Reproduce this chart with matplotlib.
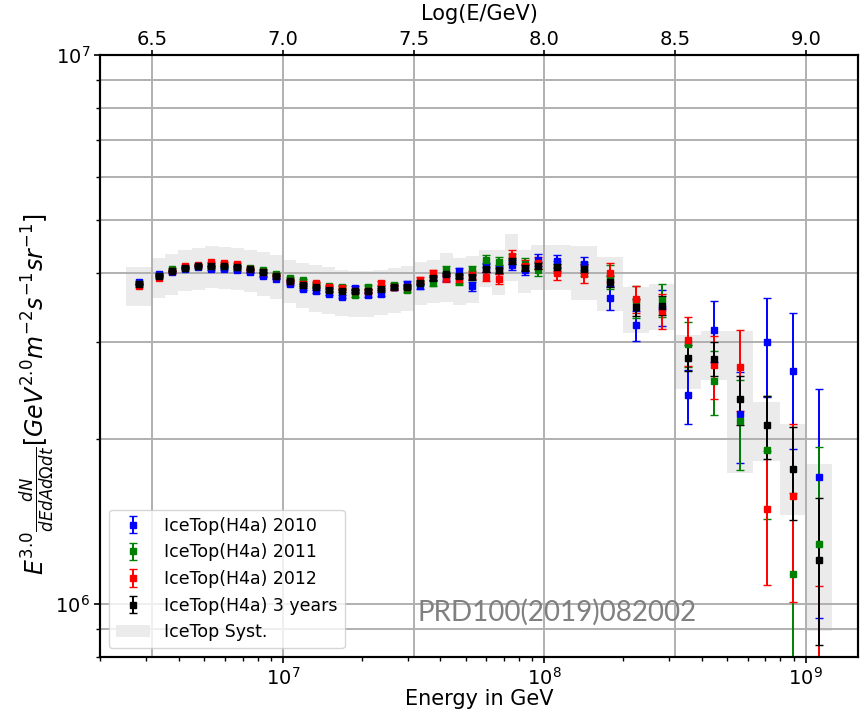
import numpy as np
import matplotlib
matplotlib.use("Agg")
import matplotlib.pyplot as plt
from matplotlib.patches import Patch

plt.rcParams['font.family'] = ['DejaVu Sans']
plt.rcParams['mathtext.fontset'] = 'dejavusans'

# log10(E/GeV) bin centres and bin edges
log_e = [6.45, 6.525, 6.575, 6.625, 6.675, 6.725, 6.775, 6.825, 6.875, 6.925, 6.975,
         7.025, 7.075, 7.125, 7.175, 7.225, 7.275, 7.325, 7.375, 7.425, 7.475,
         7.525, 7.575, 7.625, 7.675, 7.725, 7.775, 7.825, 7.875, 7.925, 7.975,
         8.05, 8.15, 8.25, 8.35, 8.45, 8.55, 8.65, 8.75, 8.85, 8.95, 9.05]
log_edges = [6.4, 6.5, 6.55, 6.6, 6.65, 6.7, 6.75, 6.8, 6.85, 6.9, 6.95, 7.0,
             7.05, 7.1, 7.15, 7.2, 7.25, 7.3, 7.35, 7.4, 7.45, 7.5,
             7.55, 7.6, 7.65, 7.7, 7.75, 7.8, 7.85, 7.9, 7.95, 8.0,
             8.1, 8.2, 8.3, 8.4, 8.5, 8.6, 8.7, 8.8, 8.9, 9.0, 9.1]

# E^3 dN/dE ... in units of 1e6 GeV^2 m^-2 s^-1 sr^-1
flux_2010 = [3.858, 3.994, 4.023, 4.083, 4.113, 4.073, 4.073, 4.061, 4.019, 3.949, 3.915,
             3.831, 3.746, 3.710, 3.670, 3.627, 3.763, 3.655, 3.672, 3.773, 3.831,
             3.799, 3.917, 3.932, 4.035, 3.788, 4.101, 4.070, 4.146, 4.061, 4.233,
             4.210, 4.168, 3.614, 3.216, 3.466, 2.399, 3.158, 2.222, 2.995, 2.654, 1.701]
err_2010 = [0.010, 0.010, 0.010, 0.010, 0.011, 0.011, 0.012, 0.012, 0.013, 0.014, 0.015,
            0.017, 0.019, 0.021, 0.023, 0.025, 0.028, 0.031, 0.034, 0.037, 0.041,
            0.045, 0.050, 0.055, 0.060, 0.066, 0.072, 0.079, 0.086, 0.094, 0.100,
            0.110, 0.117, 0.180, 0.200, 0.260, 0.270, 0.400, 0.420, 0.610, 0.740, 0.760]

flux_2011 = [3.826, 3.961, 4.074, 4.100, 4.130, 4.125, 4.125, 4.112, 4.087, 4.066, 3.998,
             3.929, 3.889, 3.820, 3.794, 3.782, 3.655, 3.779, 3.766, 3.804, 3.737,
             3.847, 3.844, 4.065, 3.871, 4.051, 4.237, 4.205, 4.251, 4.163, 4.061,
             4.107, 4.083, 3.945, 3.560, 3.580, 2.979, 2.546, 2.154, 1.909, 1.133, 1.288]
err_2011 = [0.010, 0.010, 0.010, 0.010, 0.011, 0.011, 0.012, 0.012, 0.013, 0.014, 0.015,
            0.017, 0.018, 0.020, 0.022, 0.024, 0.027, 0.030, 0.033, 0.036, 0.040,
            0.044, 0.049, 0.054, 0.060, 0.068, 0.080, 0.084, 0.090, 0.100, 0.110,
            0.100, 0.120, 0.200, 0.240, 0.250, 0.280, 0.340, 0.400, 0.480, 0.460, 0.640]

flux_2012 = [3.794, 3.928, 4.040, 4.134, 4.147, 4.194, 4.177, 4.163, 4.070, 4.016, 3.965,
             3.880, 3.826, 3.836, 3.779, 3.767, 3.717, 3.717, 3.844, 3.773, 3.784,
             3.895, 4.000, 3.916, 3.904, 3.969, 3.948, 3.901, 4.304, 4.129, 4.182,
             4.004, 3.998, 4.011, 3.589, 3.422, 3.020, 2.721, 2.699, 1.491, 1.569, 0.620]
err_2012 = [0.010, 0.010, 0.010, 0.010, 0.011, 0.011, 0.012, 0.012, 0.013, 0.014, 0.015,
            0.017, 0.019, 0.021, 0.023, 0.025, 0.028, 0.031, 0.034, 0.037, 0.041,
            0.045, 0.050, 0.055, 0.061, 0.067, 0.074, 0.081, 0.110, 0.096, 0.104,
            0.110, 0.150, 0.160, 0.200, 0.250, 0.310, 0.360, 0.450, 0.410, 0.560, 0.460]

flux_3yr = [3.826, 3.961, 4.040, 4.100, 4.130, 4.125, 4.125, 4.112, 4.070, 4.016, 3.965,
            3.880, 3.810, 3.773, 3.732, 3.720, 3.717, 3.717, 3.750, 3.773, 3.784,
            3.847, 3.917, 3.982, 3.953, 3.936, 4.067, 4.053, 4.216, 4.095, 4.130,
            4.107, 4.083, 3.864, 3.470, 3.495, 2.810, 2.797, 2.359, 2.116, 1.762, 1.201]
err_3yr = [0.006, 0.006, 0.006, 0.006, 0.006, 0.007, 0.007, 0.007, 0.008, 0.008, 0.009,
           0.010, 0.011, 0.012, 0.013, 0.014, 0.016, 0.018, 0.020, 0.021, 0.023,
           0.026, 0.029, 0.032, 0.035, 0.038, 0.042, 0.046, 0.050, 0.054, 0.058,
           0.060, 0.070, 0.090, 0.120, 0.140, 0.150, 0.200, 0.240, 0.280, 0.340, 0.360]

# systematic uncertainty band (same units)
syst_hi = [4.112, 4.276, 4.347, 4.421, 4.458, 4.484, 4.471, 4.458, 4.421, 4.378, 4.318,
           4.240, 4.182, 4.142, 4.101, 4.057, 4.040, 4.040, 4.057, 4.084, 4.125,
           4.200, 4.229, 4.360, 4.270, 4.306, 4.421, 4.421, 4.726, 4.410, 4.502,
           4.502, 4.489, 4.279, 3.784, 3.821, 3.084, 3.136, 3.136, 2.332, 2.125, 1.799]
syst_lo = [3.495, 3.603, 3.655, 3.716, 3.731, 3.756, 3.741, 3.731, 3.706, 3.640, 3.594,
           3.528, 3.467, 3.409, 3.376, 3.346, 3.331, 3.331, 3.353, 3.381, 3.423,
           3.505, 3.528, 3.553, 3.505, 3.528, 3.784, 3.655, 3.875, 3.680, 3.731,
           3.731, 3.580, 3.416, 3.114, 3.158, 2.462, 2.554, 1.735, 1.823, 1.454, 0.891]

top_ticks = [6.5, 7.0, 7.5, 8.0, 8.5, 9.0]

series = [
    ("IceTop(H4a) 2010", flux_2010, err_2010, "#0000ff"),
    ("IceTop(H4a) 2011", flux_2011, err_2011, "#008000"),
    ("IceTop(H4a) 2012", flux_2012, err_2012, "#ff0000"),
    ("IceTop(H4a) 3 years", flux_3yr, err_3yr, "#000000"),
]

unit = 1e6
energy = 10 ** np.array(log_e)
edges = 10 ** np.array(log_edges)

fig = plt.figure(figsize=(8.66, 7.10), dpi=100)
ax = fig.add_axes([0.1155, 0.0746, 0.8753, 0.8479])
ax.set_xscale('log')
ax.set_yscale('log')
ax.set_xlim(10 ** 6.3, 10 ** 9.2)
ax.set_ylim(8e5, 1e7)

grid_color = '#b0b0b0'
ax.grid(True, which='both', axis='y', color=grid_color, lw=1.4)
for t in top_ticks:
    ax.axvline(10 ** t, color=grid_color, lw=1.4, zorder=1.5)

band_color = '#ebebeb'
ax.stairs(np.array(syst_hi) * unit, edges, baseline=np.array(syst_lo) * unit,
          fill=True, color=band_color, lw=0, zorder=1)

handles = []
for label, flux, err, color in series:
    h = ax.errorbar(energy, np.array(flux) * unit, yerr=np.array(err) * unit,
                    fmt='s', ms=5, color=color, ecolor=color, elinewidth=1.4,
                    capsize=3, capthick=1.0, label=label, zorder=3)
    handles.append(h)
handles.append(Patch(facecolor=band_color, edgecolor='none', label='IceTop Syst.'))

for s in ax.spines.values():
    s.set_linewidth(1.5)
ax.tick_params(axis='both', which='major', labelsize=14, length=4.5, width=1.2, pad=2.5)
ax.tick_params(axis='both', which='minor', length=3, width=1.0)
ax.set_xlabel('Energy in GeV', fontsize=15, labelpad=0)
ax.set_ylabel(r'$E^{3.0}\frac{dN}{dEdAd\Omega dt}[GeV^{2.0}m^{-2}s^{-1}sr^{-1}]$',
              fontsize=17)
ax.yaxis.set_label_coords(-0.057, 0.437)

ax2 = ax.twiny()
ax2.set_xlim(6.3, 9.2)
ax2.set_xticks(top_ticks)
ax2.set_xticklabels([f'{t:.1f}' for t in top_ticks])
ax2.tick_params(axis='x', labelsize=14, length=3.5, width=1.2, pad=1.0)
ax2.set_xlabel('Log(E/GeV)', fontsize=15, labelpad=7)
for s in ax2.spines.values():
    s.set_linewidth(1.5)

ax.legend(handles=handles, loc='lower left', fontsize=12.5, framealpha=0.8)

fig.text(0.643, 0.138, 'PRD100(2019)082002', color='#808080', fontsize=20,
         family=['Lato', 'DejaVu Sans'], ha='center', va='center')

fig.savefig('out.png', dpi=100)
